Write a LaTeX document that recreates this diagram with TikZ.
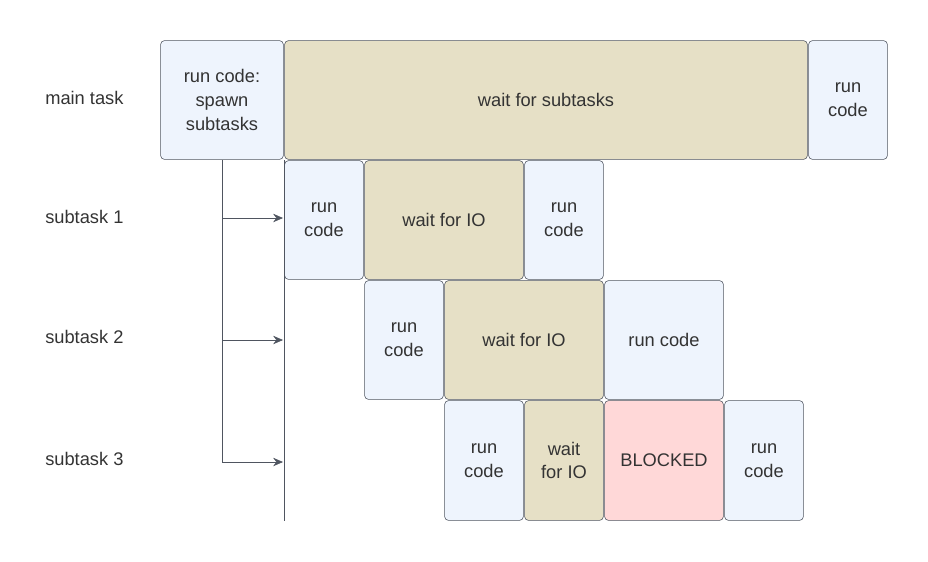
\documentclass[tikz,border=0pt]{standalone}
\usepackage{fontspec}
\setmainfont{Liberation Sans}
\usetikzlibrary{arrows.meta}
\definecolor{runblue}{HTML}{EEF4FD}
\definecolor{waittan}{HTML}{E6E0C6}
\definecolor{blockpink}{HTML}{FFD8D8}
\definecolor{edgegrey}{HTML}{4F5560}
\newcommand\tasktextstyle{\fontsize{13}{17}\selectfont}
% box from (x0,y0) to (x1,y1), pixel units
\newcommand\taskbox[7]{
  \node[box, fill=#6, minimum width={(#4-#2)*0.025cm-1pt}, minimum height={(#5-#3)*0.025cm-1pt}]
    (#1) at ({(#2+#4)/2}, {(#3+#5)/2}) {#7} ;
}
\tikzset{
  box/.style={draw=edgegrey, rounded corners=2.5pt, align=center, inner sep=1pt,
    text=black!80, font=\tasktextstyle},
  rowlabel/.style={anchor=west, text=black!80, font=\tasktextstyle, inner sep=0pt},
  spawn/.style={draw=edgegrey, thin, -{Stealth[length=7pt,width=6pt]}}
}
\begin{document}
\begin{tikzpicture}[x=0.025cm, y=-0.025cm]
  \useasboundingbox (0,0) rectangle (928,561) ;
  % row labels
  \node[rowlabel] (lmain) at (45,98) {main task} ;
  \node[rowlabel] (lsub1) at (45,217) {subtask 1} ;
  \node[rowlabel] (lsub2) at (45,337) {subtask 2} ;
  \node[rowlabel] (lsub3) at (45,459) {subtask 3} ;
  % main task
  \taskbox{spawn}{160}{40}{284}{160}{runblue}{run code:\\spawn\\subtasks}
  \taskbox{waitsub}{284}{40}{808}{160}{waittan}{wait for subtasks}
  \taskbox{mainend}{808}{40}{888}{160}{runblue}{run\\code}
  % subtask 1
  \taskbox{runa}{284}{160}{364}{280}{runblue}{run\\code}
  \taskbox{waita}{364}{160}{524}{280}{waittan}{wait for IO}
  \taskbox{enda}{524}{160}{604}{280}{runblue}{run\\code}
  % subtask 2
  \taskbox{runb}{364}{280}{444}{400}{runblue}{run\\code}
  \taskbox{waitb}{444}{280}{604}{400}{waittan}{wait for IO}
  \taskbox{endb}{604}{280}{724}{400}{runblue}{run code}
  % subtask 3
  \taskbox{runc}{444}{400}{524}{521}{runblue}{run\\code}
  \taskbox{waitc}{524}{400}{604}{521}{waittan}{wait\\for IO}
  \taskbox{blockc}{604}{400}{724}{521}{blockpink}{BLOCKED}
  \taskbox{endc}{724}{400}{804}{521}{runblue}{run\\code}
  % spawn lines
  \coordinate (top) at (222,160) ;
  \coordinate (bend) at (222,462) ;
  \coordinate (axtop) at (284,160) ;
  \coordinate (axbot) at (284,521) ;
  \draw[edgegrey, thin] (axtop) -- (axbot) ;
  \draw[edgegrey, thin] (top) -- (bend) ;
  \foreach \yy in {218,340,462}
    \draw[spawn] (222,\yy) -- (283,\yy) ;
\end{tikzpicture}
\end{document}
